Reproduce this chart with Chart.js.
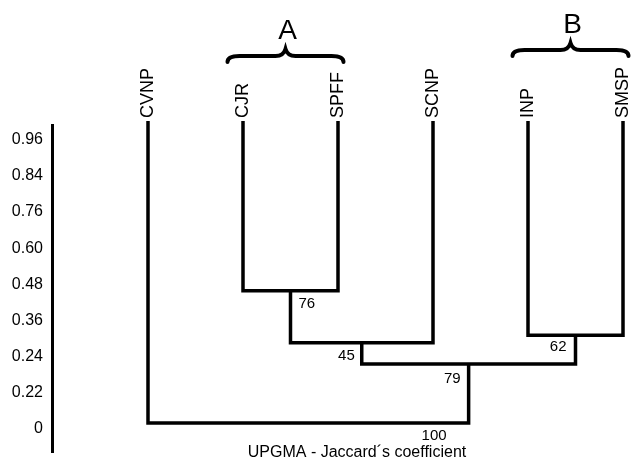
<!DOCTYPE html>
<html>
<head>
<meta charset="utf-8">
<script src="https://cdn.jsdelivr.net/npm/chart.js@4.4.1/dist/chart.umd.min.js"></script>
<style>
  html, body { margin: 0; padding: 0; background: #fff; }
  #wrap { width: 631px; height: 471px; position: relative; }
</style>
</head>
<body>
<div id="wrap"><canvas id="c"></canvas></div>
<script>
// leaves of the dendrogram, left to right
const leaves = ["CVNP", "CJR", "SPFF", "SCNP", "INP", "SMSP"];
// height where the leaf branches start (in y-axis units)
const leafTop = 8.52;
// merges: [left child, right child, height, support]; children are leaf names or "m<k>"
const mergeLeft = ["CJR", "m0", "INP", "m1", "CVNP"];
const mergeRight = ["SPFF", "SCNP", "SMSP", "m2", "m3"];
const mergeHeight = [3.82, 2.38, 2.59, 1.79, 0.16];
const mergeSupport = ["76", "45", "62", "79", "100"];
// y-axis tick labels, top to bottom
const yLabels = ["0.96", "0.84", "0.76", "0.60", "0.48", "0.36", "0.24", "0.22", "0"];
// bracketed groups
const groupNames = ["A", "B"];
const groupLeaves = [["CJR", "SPFF"], ["INP", "SMSP"]];
const axisTitle = "UPGMA - Jaccard\u00b4s coefficient";

const FONT = "'Liberation Sans', Arial, Helvetica, sans-serif";

// node position (x, height) for leaves and merges
function nodePos(id) {
  if (id[0] === "m" && !leaves.includes(id)) {
    const k = +id.slice(1);
    return { x: (nodePos(mergeLeft[k]).x + nodePos(mergeRight[k]).x) / 2, y: mergeHeight[k] };
  }
  return { x: leaves.indexOf(id), y: leafTop };
}

const datasets = mergeHeight.map((h, k) => {
  const a = nodePos(mergeLeft[k]);
  const b = nodePos(mergeRight[k]);
  return {
    data: [{ x: a.x, y: a.y }, { x: a.x, y: h }, { x: b.x, y: h }, { x: b.x, y: b.y }],
    borderColor: "#000",
    borderWidth: 3.5,
    borderJoinStyle: "miter",
    borderCapStyle: "butt",
    pointRadius: 0,
    tension: 0,
    clip: false
  };
});

const labelsPlugin = {
  id: "dendroLabels",
  afterDatasetsDraw(chart) {
    const { ctx } = chart;
    const xs = chart.scales.x, ys = chart.scales.y;
    ctx.save();
    ctx.fillStyle = "#000";

    // leaf names, vertical
    ctx.font = "18px " + FONT;
    ctx.textAlign = "left";
    ctx.textBaseline = "middle";
    leaves.forEach((name, i) => {
      ctx.save();
      ctx.translate(xs.getPixelForValue(i), ys.getPixelForValue(leafTop) - 3);
      ctx.rotate(-Math.PI / 2);
      ctx.fillText(name, 0, 0);
      ctx.restore();
    });

    // support values near each junction (the root one sits by its right branch)
    ctx.font = "15px " + FONT;
    const place = [[8, 13, "left"], [-7, 13, "right"], [-9, 12, "right"], [-8, 15, "right"], [-22, 13, "right"]];
    mergeSupport.forEach((s, k) => {
      const p = nodePos("m" + k);
      const ax = k === mergeSupport.length - 1 ? nodePos(mergeRight[k]).x : p.x;
      const px = xs.getPixelForValue(ax), py = ys.getPixelForValue(p.y);
      ctx.textAlign = place[k][2];
      ctx.fillText(s, px + place[k][0], py + place[k][1]);
    });

    // braces with group letters
    const lift = [0, 6];
    groupNames.forEach((g, j) => {
      const x1 = xs.getPixelForValue(leaves.indexOf(groupLeaves[j][0]));
      const x2 = xs.getPixelForValue(leaves.indexOf(groupLeaves[j][1]));
      const cx = (x1 + x2) / 2 - 5;
      const half = 58;
      const y = 56 - lift[j];
      ctx.lineWidth = 4;
      ctx.lineCap = "round";
      ctx.strokeStyle = "#000";
      ctx.beginPath();
      ctx.moveTo(cx - half, y + 6);
      ctx.quadraticCurveTo(cx - half, y, cx - half + 12, y);
      ctx.lineTo(cx - 10, y);
      ctx.quadraticCurveTo(cx - 2, y, cx, y - 7);
      ctx.quadraticCurveTo(cx + 2, y, cx + 10, y);
      ctx.lineTo(cx + half - 12, y);
      ctx.quadraticCurveTo(cx + half, y, cx + half, y + 6);
      ctx.stroke();
      ctx.font = "28px " + FONT;
      ctx.textAlign = "center";
      ctx.textBaseline = "middle";
      ctx.fillText(g, cx + 2, y - 25);
    });

    // axis title under the tree
    ctx.font = "16px " + FONT;
    ctx.textAlign = "center";
    ctx.textBaseline = "middle";
    ctx.fillText(axisTitle, xs.getPixelForValue(2.2), 453);
    ctx.restore();
  }
};

new Chart(document.getElementById("c"), {
  type: "line",
  data: { datasets },
  plugins: [labelsPlugin],
  options: {
    responsive: true,
    maintainAspectRatio: false,
    animation: false,
    layout: { padding: { top: 125, bottom: 14, left: 0, right: 3 } },
    plugins: { legend: { display: false }, tooltip: { enabled: false } },
    scales: {
      x: { type: "linear", display: false, min: -1.0105, max: 5.0526 },
      y: {
        type: "linear",
        min: -0.655,
        max: 8.41,
        afterFit: (s) => { s.width = 52; },
        afterBuildTicks: (s) => { s.ticks = yLabels.map((_, i) => ({ value: i })); },
        grid: { display: false, drawTicks: false },
        border: { display: true, width: 3, color: "#000" },
        ticks: {
          padding: 9,
          color: "#000",
          font: { size: 16, family: FONT },
          callback: (v) => yLabels[yLabels.length - 1 - v]
        }
      }
    }
  }
});
</script>
</body>
</html>
